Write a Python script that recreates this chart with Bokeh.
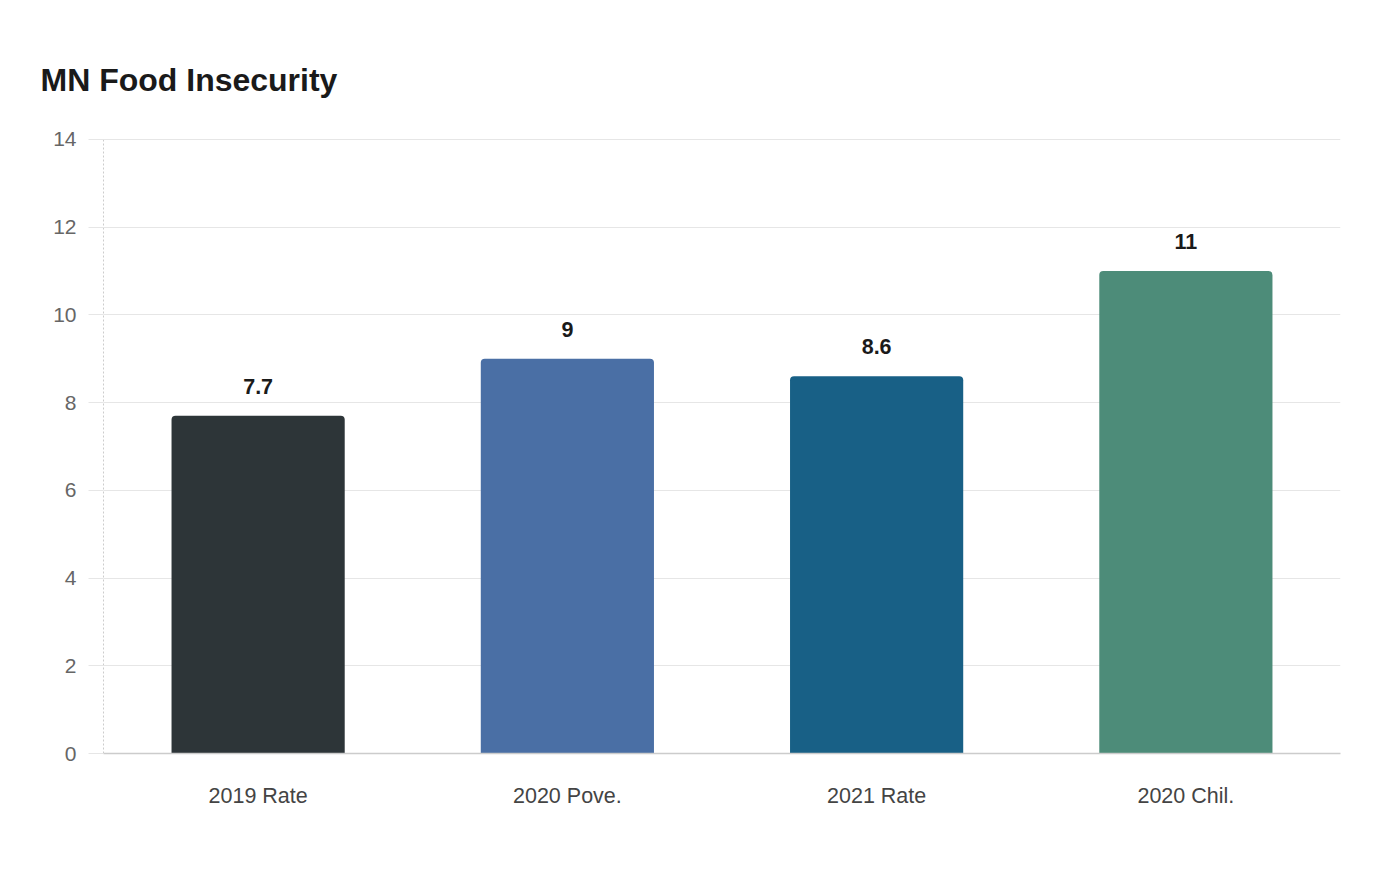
from bokeh.plotting import figure
from bokeh.models import ColumnDataSource, LabelSet, FixedTicker, Title
from bokeh.core.properties import value
from bokeh.embed import file_html
from bokeh.resources import INLINE

categories = ["2019 Rate", "2020 Pove.", "2021 Rate", "2020 Chil."]
values = [7.7, 9, 8.6, 11]
value_labels = ["7.7", "9", "8.6", "11"]
colors = ["#2d3538", "#4a6fa5", "#186086", "#4d8c79"]
y_ticks = [0, 2, 4, 6, 8, 10, 12, 14]

source = ColumnDataSource(dict(cat=categories, val=values, lab=value_labels, color=colors))

p = figure(x_range=categories, y_range=(0, 14.02), width=1384, height=864,
           output_backend="svg", toolbar_location=None,
           min_border_left=103, min_border_right=44, min_border_top=138, min_border_bottom=111)
p.title = None
title = Title(text="MN Food Insecurity", text_font="Liberation Sans", text_font_size="32px",
              text_font_style="bold", text_color="#1a1a1a", align="left", offset=-63, standoff=81)
p.add_layout(title, "above")

p.vbar(x="cat", top="val", width=0.56, source=source, fill_color="color", line_color=None,
       border_radius=(4, 4, 0, 0))

labels = LabelSet(x="cat", y="val", text="lab", source=source, y_offset=22,
                  text_align="center", text_baseline="alphabetic",
                  text_font=value("Liberation Sans"), text_font_size="21.5px", text_font_style="bold",
                  text_color="#1a1a1a")
p.add_layout(labels)

p.outline_line_color = None
p.background_fill_color = "white"
p.border_fill_color = "white"

p.xgrid.grid_line_color = None
p.ygrid.grid_line_color = "#e6e6e6"
p.ygrid.grid_line_width = 1

p.yaxis.ticker = FixedTicker(ticks=y_ticks)
p.yaxis.axis_line_color = "#cccccc"
p.yaxis.axis_line_dash = "2 2"
p.yaxis.major_tick_line_color = "#e6e6e6"
p.yaxis.major_tick_out = 15
p.yaxis.major_tick_in = 0
p.yaxis.minor_tick_line_color = None
p.yaxis.major_label_text_font = "Liberation Sans"
p.yaxis.major_label_text_font_size = "21px"
p.yaxis.major_label_text_color = "#666666"
p.yaxis.major_label_standoff = 12

p.xaxis.axis_line_color = "#cccccc"
p.xaxis.axis_line_width = 1.5
p.xaxis.major_tick_line_color = None
p.xaxis.minor_tick_line_color = None
p.xaxis.major_label_text_font = "Liberation Sans"
p.xaxis.major_label_text_font_size = "21.5px"
p.xaxis.major_label_text_color = "#444444"
p.xaxis.major_label_standoff = 24

open("out.html", "w").write(file_html(p, INLINE))
